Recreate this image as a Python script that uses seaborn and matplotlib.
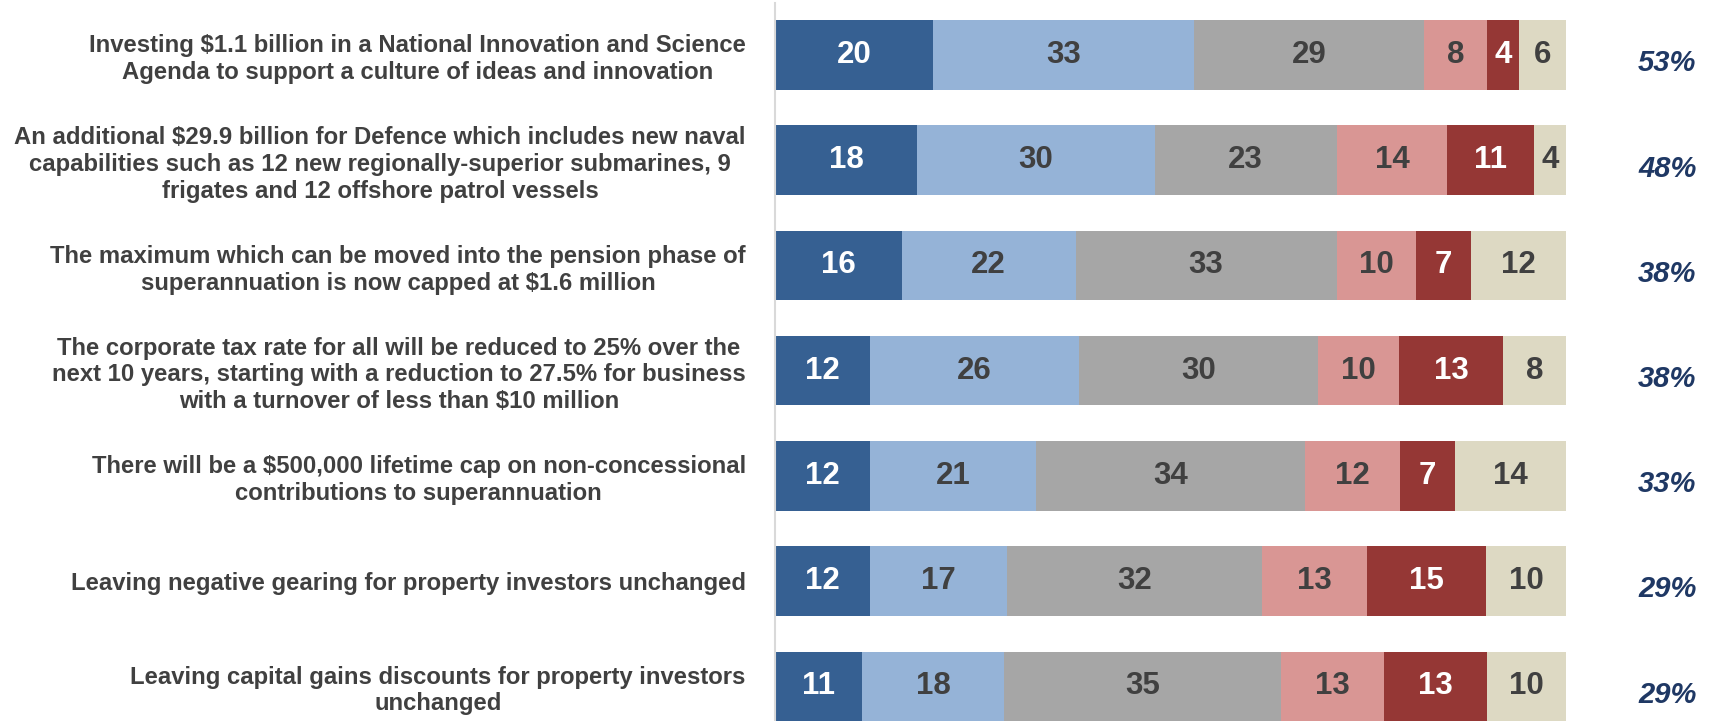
import numpy as np
import pandas as pd
import matplotlib
matplotlib.use('Agg')
import matplotlib.pyplot as plt
import seaborn as sns

# Statements and response shares (%), bar lengths
statements = [
    'Investing $1.1 billion in a National Innovation and Science\nAgenda to support a culture of ideas and innovation',
    'An additional $29.9 billion for Defence which includes new naval\ncapabilities such as 12 new regionally-superior submarines, 9\nfrigates and 12 offshore patrol vessels',
    'The maximum which can be moved into the pension phase of\nsuperannuation is now capped at $1.6 million',
    'The corporate tax rate for all will be reduced to 25% over the\nnext 10 years, starting with a reduction to 27.5% for business\nwith a turnover of less than $10 million',
    'There will be a $500,000 lifetime cap on non-concessional\ncontributions to superannuation',
    'Leaving negative gearing for property investors unchanged',
    'Leaving capital gains discounts for property investors\nunchanged',
]
strongly_support = [20, 18, 16, 12.0, 12, 12.0, 11]
support = [33, 30, 22, 26.4, 21, 17.3, 18]
neutral = [29, 23, 33, 30.3, 34, 32.3, 35]
oppose = [8, 14, 10, 10.2, 12, 13.2, 13]
strongly_oppose = [4, 11, 7, 13.1, 7, 15.1, 13]
dont_know = [6, 4, 12, 8.0, 14, 10.1, 10]
net_support = ['53%', '48%', '38%', '38%', '33%', '29%', '29%']

series = [strongly_support, support, neutral, oppose, strongly_oppose, dont_know]
colors = ['#366092', '#95B3D7', '#A6A6A6', '#D99694', '#953735', '#DDD9C3']
text_colors = ['white', '#404040', '#404040', '#404040', 'white', '#404040']

cols = ['s1', 's2', 's3', 's4', 's5', 's6']
df = pd.DataFrame(np.array(series).T, columns=cols)
df['statement'] = statements
cum = df[cols].cumsum(axis=1)

plt.rcParams['font.family'] = ['Liberation Sans', 'DejaVu Sans']

fig = plt.figure(figsize=(17.09, 7.21), dpi=100)
ax = fig.add_axes([775 / 1709, 0, 791 / 1709, 1 - 3 / 721])

# stacked bars: draw cumulative totals from the outermost segment inward
for k in range(5, -1, -1):
    sns.barplot(x=cum.iloc[:, k], y=df['statement'], order=statements,
                color=colors[k], width=0.66, orient='h', linewidth=0,
                saturation=1, ax=ax)

# segment value labels
for k in range(6):
    left = cum.iloc[:, k] - df.iloc[:, k]
    for i in range(len(statements)):
        v = df.iloc[i, k]
        ax.text(left[i] + v / 2, i, f'{v:.0f}', ha='center', va='center',
                fontsize=22.5, fontweight='bold', color=text_colors[k])

# net support on the right
for i, p in enumerate(net_support):
    ax.text(112.8, i + 0.08, p, ha='center', va='center', fontsize=21,
            fontweight='bold', fontstyle='italic', color='#1F3864', clip_on=False)

ax.set_xlim(0, 100)
ax.set_ylim(6.33, -0.494)
ax.set_xlabel('')
ax.set_ylabel('')
ax.set_xticks([])
ax.tick_params(axis='y', length=0, pad=21, labelsize=17.2, labelcolor='#404040')
for lab in ax.get_yticklabels():
    lab.set_fontweight('bold')
    lab.set_multialignment('center')
    lab.set_linespacing(1.2)

sns.despine(ax=ax, top=True, right=True, bottom=True, left=False)
ax.spines['left'].set_color('#D9D9D9')
ax.spines['left'].set_linewidth(1.5)
ax.set_facecolor('white')

fig.savefig('out.png', dpi=100)
